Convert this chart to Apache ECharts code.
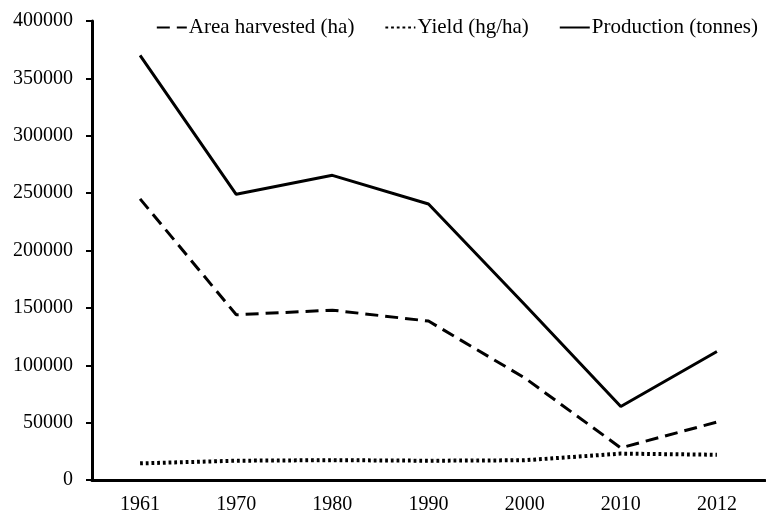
<!DOCTYPE html>
<html>
<head>
<meta charset="utf-8">
<script src="https://cdn.jsdelivr.net/npm/echarts@6/dist/echarts.min.js"></script>
<style>
	html, body { margin: 0; padding: 0; background: #fff; }
	#chart { width: 766px; height: 516px; }
</style>
</head>
<body>
<div id="chart"></div>
<script>
var years = ['1961', '1970', '1980', '1990', '2000', '2010', '2012'];
var areaHarvested = [245000, 144000, 148000, 138500, 89000, 28000, 50500];
var yieldValues = [14500, 16800, 17300, 16800, 17200, 23000, 22000];
var production = [370000, 249000, 265500, 240500, 153000, 64000, 112000];

var fontName = '"Liberation Serif", serif';

var chart = echarts.init(document.getElementById('chart'));

var option = {
	animation: false,
	backgroundColor: '#fff',
	textStyle: { fontFamily: fontName, color: '#000' },
	legend: {
		top: 12,
		right: 3,
		itemWidth: 30,
		itemHeight: 14,
		itemGap: 30,
		itemStyle: { opacity: 0 },
		textStyle: { fontFamily: fontName, fontSize: 21, color: '#000', padding: [0, 0, 0, -3] },
		data: ['Area harvested (ha)', 'Yield (hg/ha)', 'Production (tonnes)']
	},
	grid: { left: 92, right: 1, top: 21, bottom: 36 },
	xAxis: {
		type: 'category',
		data: years,
		boundaryGap: true,
		axisLine: { lineStyle: { color: '#000', width: 3 } },
		axisTick: { length: 6, lineStyle: { color: '#000', width: 2 } },
		axisLabel: { margin: 15, fontFamily: fontName, fontSize: 20, color: '#000' },
		splitLine: { show: false }
	},
	yAxis: {
		type: 'value',
		min: 0,
		max: 400000,
		interval: 50000,
		axisLine: { show: true, lineStyle: { color: '#000', width: 3 } },
		axisTick: { show: true, length: 6, lineStyle: { color: '#000', width: 2 } },
		axisLabel: {
			margin: 19, fontFamily: fontName, fontSize: 20, color: '#000',
			formatter: function (v) { return String(v); }
		},
		splitLine: { show: false }
	},
	series: [
		{
			name: 'Area harvested (ha)',
			type: 'line',
			data: areaHarvested,
			symbol: 'none',
			itemStyle: { color: '#000' },
			lineStyle: { color: '#000', width: 3, type: [13, 7] }
		},
		{
			name: 'Yield (hg/ha)',
			type: 'line',
			data: yieldValues,
			symbol: 'none',
			itemStyle: { color: '#000' },
			lineStyle: { color: '#000', width: 4, type: [2.8, 2.9] }
		},
		{
			name: 'Production (tonnes)',
			type: 'line',
			data: production,
			symbol: 'none',
			itemStyle: { color: '#000' },
			lineStyle: { color: '#000', width: 3 }
		}
	]
};

chart.setOption(option);
</script>
</body>
</html>
